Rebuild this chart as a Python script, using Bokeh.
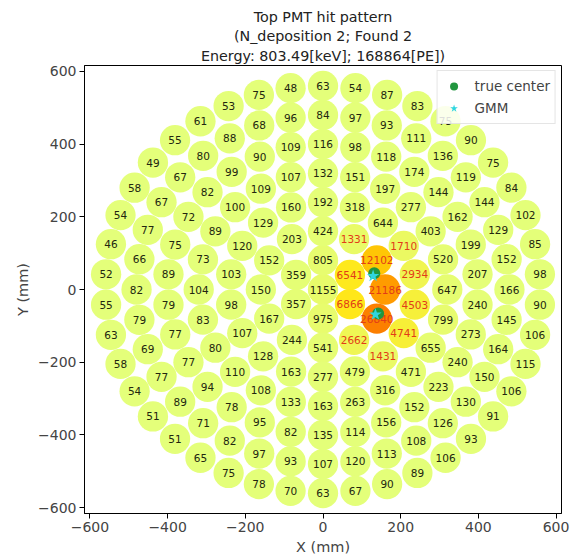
import numpy as np
from bokeh.plotting import figure
from bokeh.models import ColumnDataSource, Title, Legend, LegendItem, Range1d, FixedTicker, CustomJSTickFormatter
from bokeh.core.properties import value
from bokeh.embed import file_html
from bokeh.resources import INLINE

# Photo-electrons per top PMT, listed ring by ring (clockwise from 12 o'clock)
ring0 = [1155]
ring1 = [805, 6541, 6866, 975, 357, 359]
ring2 = [424, 1331, 12102, 21186, 26840, 2662, 541, 244, 167, 150, 152, 203]
ring3 = [192, 318, 644, 1710, 2934, 4503, 4741, 1431, 479, 277, 163, 128, 107, 98,
         103, 120, 129, 160]
ring4 = [132, 151, 197, 277, 403, 520, 647, 799, 655, 471, 316, 263, 163, 133, 108,
         110, 80, 83, 104, 73, 89, 100, 109, 107]
ring5 = [116, 98, 118, 174, 144, 162, 199, 207, 240, 273, 240, 223, 152, 156, 114,
         135, 82, 95, 78, 94, 77, 77, 79, 89, 75, 72, 82, 99, 90, 109]
ring6 = [84, 97, 93, 111, 136, 119, 144, 129, 152, 166, 145, 164, 150, 130, 126, 108,
         113, 120, 107, 93, 97, 82, 71, 89, 77, 69, 79, 82, 66, 77, 67, 67, 80, 88, 68, 96]
ring7 = [63, 54, 87, 83, 75, 90, 75, 84, 102, 85, 98, 90, 106, 115, 106, 91, 93, 106,
         89, 90, 67, 63, 70, 78, 75, 65, 51, 51, 54, 58, 63, 55, 52, 46, 54, 58, 49, 55,
         61, 53, 75, 48]
rings = [ring0, ring1, ring2, ring3, ring4, ring5, ring6, ring7]

# Interaction positions (mm)
true_x = [132, 142]
true_y = [45, -66]
gmm_x = [129, 135]
gmm_y = [37, -69]

TITLE_LINES = ["Top PMT hit pattern",
               "(N_deposition 2; Found 2",
               "Energy: 803.49[keV]; 168864[PE])"]

# Top array geometry: concentric rings, 80 mm pitch, 6*k tubes on ring k
RING_PITCH = 80.0
px, py, pe = [], [], []
for k, vals in enumerate(rings):
    n = len(vals)
    for j, v in enumerate(vals):
        ang = np.deg2rad(90.0 - j * 360.0 / n) if n > 1 else 0.0
        r = RING_PITCH * k
        px.append(r * np.cos(ang))
        py.append(r * np.sin(ang))
        pe.append(v)
pe = np.array(pe, dtype=float)

# Wistia colormap, linear in PE
stops = [0.0, 0.25, 0.5, 0.75, 1.0]
reds = [0.894, 1.0, 1.0, 1.0, 0.988]
greens = [1.0, 0.910, 0.741, 0.627, 0.498]
blues = [0.478, 0.102, 0.0, 0.0, 0.0]
t = (pe - pe.min()) / (pe.max() - pe.min())


def hexcol(r, g, b):
    return "#%02x%02x%02x" % (int(round(r * 255)), int(round(g * 255)), int(round(b * 255)))


fill = [hexcol(np.interp(v, stops, reds), np.interp(v, stops, greens), np.interp(v, stops, blues)) for v in t]
txtcol = ["#e23c18" if v >= 1300 else "#22260f" for v in pe]

src = ColumnDataSource(dict(x=px, y=py, pe=pe, lab=[str(int(v)) for v in pe], fill=fill, tc=txtcol))

p = figure(width=571, height=557, output_backend="svg", toolbar_location=None,
           x_range=Range1d(-614, 614), y_range=Range1d(-616, 616),
           min_border_left=84, min_border_right=10, min_border_bottom=40, min_border_top=0)
p.title = None
standoffs = [2, 1, 3]
for line, so in reversed(list(zip(TITLE_LINES, standoffs))):
    p.add_layout(Title(text=line, align="center", offset=-30, text_font="DejaVu Sans",
                       text_font_size="14.3px", text_font_style="normal",
                       text_color="#222222", standoff=so), "above")
# thin spacer above the first title line
p.add_layout(Title(text=" ", text_font_size="3px", standoff=0), "above")

p.circle(x="x", y="y", radius=39, source=src, fill_color="fill", line_color=None)
p.text(x="x", y="y", text="lab", source=src, text_align="center", text_baseline="middle",
       text_font=value("DejaVu Sans"), text_font_size="10.5px", text_color="tc")

g1 = p.scatter(true_x, true_y, marker="circle", size=12, fill_color="#22963f", line_color=None)
g2 = p.scatter(gmm_x, gmm_y, marker="star", size=13, fill_color="#2fd6e0", line_color=None)

legend = Legend(items=[LegendItem(label="true center", renderers=[g1]),
                       LegendItem(label="GMM", renderers=[g2])],
                location="top_right", label_text_font="DejaVu Sans",
                label_text_font_size="13.5px", border_line_color="#cccccc",
                background_fill_alpha=0.85, spacing=2, padding=5, margin=5,
                glyph_width=22, label_standoff=10)
p.add_layout(legend)

p.xgrid.visible = False
p.ygrid.visible = False
p.outline_line_color = "black"
p.outline_line_width = 1
fmt = CustomJSTickFormatter(code="return tick < 0 ? '\u2212' + Math.abs(tick) : String(tick);")
for ax, lab in ((p.xaxis[0], "X (mm)"), (p.yaxis[0], "Y (mm)")):
    ax.ticker = FixedTicker(ticks=[-600, -400, -200, 0, 200, 400, 600])
    ax.formatter = fmt
    ax.axis_label = lab
    ax.axis_label_text_font = "DejaVu Sans"
    ax.axis_label_text_font_style = "normal"
    ax.axis_label_text_font_size = "14.5px"
    ax.major_label_text_font = "DejaVu Sans"
    ax.major_label_text_font_size = "14px"
    ax.major_tick_out = 5
    ax.major_tick_in = 0
    ax.minor_tick_out = 0
    ax.minor_tick_in = 0
    ax.axis_line_color = "black"
    ax.axis_label_standoff = 4
    ax.major_label_standoff = 3

open("out.html", "w").write(file_html(p, INLINE))
